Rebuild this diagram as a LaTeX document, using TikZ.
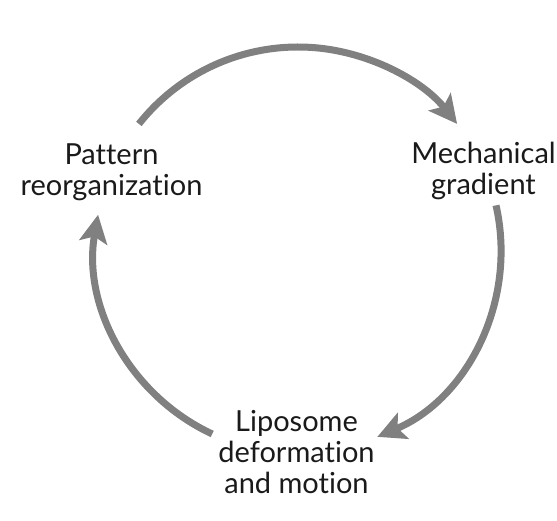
\documentclass[tikz,border=0pt]{standalone}
\usepackage{fontspec}
\setmainfont[Ligatures=NoCommon]{Lato}
\usetikzlibrary{arrows.meta}
\definecolor{arrowgray}{RGB}{128,128,128}
\definecolor{labelink}{RGB}{26,26,26}
\begin{document}
\begin{tikzpicture}[x=1pt,y=1pt,>={Stealth[length=28pt,width=28pt,inset=6pt]},line join=round,font=\fontsize{29}{31}\selectfont,scale=1]
				\tikzset{declare function={r=203;},
					steplabel/.style={align=center,inner sep=0pt,text=labelink},
					cyclearrow/.style={->,line width=7pt,draw=arrowgray}
				}
				\useasboundingbox (0,0) rectangle (557,521);
				\path (298,271) coordinate (O);
				\node[steplabel] (pattern) at (111.5,349) {Pattern\\reorganization};
				\node[steplabel] (mech) at (483.5,350) {Mechanical\\gradient};
				\node[steplabel] (lipo) at (296.5,69) {Liposome\\deformation\\and motion};
				\foreach \a/\b in {141.6/38.4,12.7/-67,245/170}{
					\draw[cyclearrow] ([shift={(\a:r)}]O) arc[start angle=\a,end angle=\b,radius=r];
				}
			\end{tikzpicture}
\end{document}
